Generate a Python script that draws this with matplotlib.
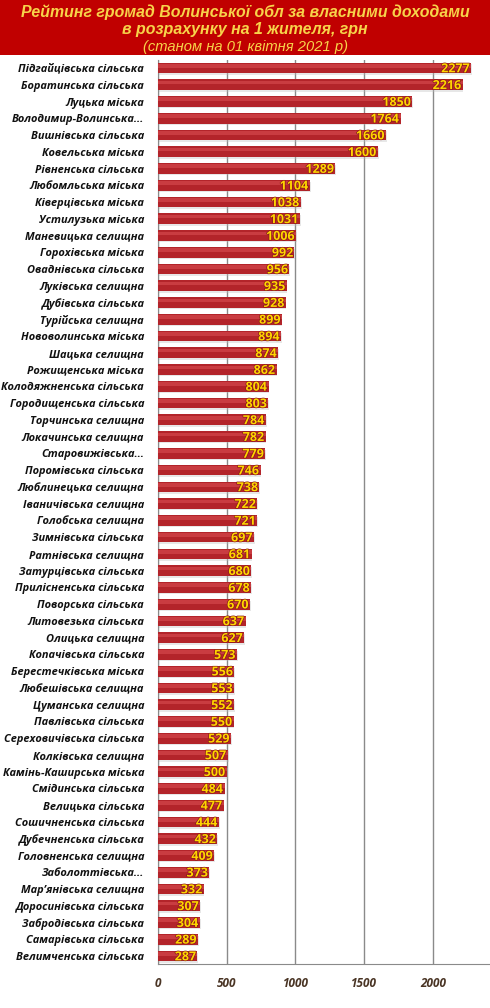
import matplotlib
matplotlib.use("Agg")
import matplotlib.pyplot as plt
import matplotlib.patheffects as pe
import numpy as np

categories = [
    "Підгайцівська сільська", "Боратинська сільська", "Луцька міська",
    "Володимир-Волинська...", "Вишнівська сільська", "Ковельська міська",
    "Рівненська сільська", "Любомльська міська", "Ківерцівська міська",
    "Устилузька міська", "Маневицька селищна", "Горохівська міська",
    "Оваднівська сільська", "Луківська селищна", "Дубівська сільська",
    "Турійська селищна", "Нововолинська міська", "Шацька селищна",
    "Рожищенська міська", "Колодяжненська сільська", "Городищенська сільська",
    "Торчинська селищна", "Локачинська селищна", "Старовижівська...",
    "Поромівська сільська", "Люблинецька селищна", "Іваничівська селищна",
    "Голобська селищна", "Зимнівська сільська", "Ратнівська селищна",
    "Затурцівська сільська", "Прилісненська сільська", "Поворська сільська",
    "Литовезька сільська", "Олицька селищна", "Копачівська сільська",
    "Берестечківська міська", "Любешівська селищна", "Цуманська селищна",
    "Павлівська сільська", "Сереховичівська сільська", "Колківська селищна",
    "Камінь-Каширська міська", "Смідинська сільська", "Велицька сільська",
    "Сошичненська сільська", "Дубечненська сільська", "Головненська селищна",
    "Заболоттівська...", "Мар’янівська селищна", "Доросинівська сільська",
    "Забродівська сільська", "Самарівська сільська", "Велимченська сільська",
]
values = [
    2277, 2216, 1850, 1764, 1660, 1600, 1289, 1104, 1038, 1031, 1006, 992,
    956, 935, 928, 899, 894, 874, 862, 804, 803, 784, 782, 779, 746, 738,
    722, 721, 697, 681, 680, 678, 670, 637, 627, 573, 556, 553, 552, 550,
    529, 507, 500, 484, 477, 444, 432, 409, 373, 332, 307, 304, 289, 287,
]
xticks = [0, 500, 1000, 1500, 2000]
title_lines = ["Рейтинг громад Волинської обл за власними доходами",
               "в розрахунку на 1 жителя, грн"]
subtitle = "(станом на 01 квітня 2021 р)"

W, H = 490, 1008
fig = plt.figure(figsize=(W / 100, H / 100), dpi=100)
fig.patch.set_facecolor("white")

# red title band
band = fig.add_axes([0, 1 - 55 / H, 1, 55 / H])
band.set_facecolor("#C00000")
band.set_xticks([]); band.set_yticks([])
for s in band.spines.values():
    s.set_visible(False)

fam = ["Open Sans", "DejaVu Sans"]
tfam = ["Liberation Sans", "DejaVu Sans"]
fig.text(0.5, 1 - 12 / H, title_lines[0], ha="center", va="center",
         color="#F7D34A", fontsize=11.4, fontweight="bold", style="italic",
         family=tfam)
fig.text(0.5, 1 - 29.5 / H, title_lines[1], ha="center", va="center",
         color="#F7D34A", fontsize=11.4, fontweight="bold", style="italic",
         family=tfam)
fig.text(0.5, 1 - 46.5 / H, subtitle, ha="center", va="center",
         color="#F7D34A", fontsize=10.6, style="italic", family=tfam)

left, right = 158 / W, 1.0
top, bottom = 1 - 59.6 / H, 1 - 964.4 / H
ax = fig.add_axes([left, bottom, right - left, top - bottom])
n = len(values)
y = np.arange(n)
ax.set_ylim(n - 0.5, -0.5)
ax.set_xlim(0, 2415)

ax.xaxis.grid(True, color="#8a8a8a", linewidth=1)
ax.set_axisbelow(True)

# shadow + bar + highlight
ax.barh(y + 0.1, values, height=0.62, left=6, color="#bbbbbb", alpha=0.35,
        linewidth=0, zorder=2)
ax.barh(y, values, height=0.64, color="#B3242A", linewidth=0, zorder=3)
ax.barh(y - 0.13, values, height=0.22, color="#CF4347", linewidth=0, zorder=4,
        alpha=0.8)

for yi, v in zip(y, values):
    ax.text(v - 10, yi + 0.05, str(v), ha="right", va="center",
            color="#FFD500", fontsize=9, fontweight="bold",
            family=fam, zorder=5,
            path_effects=[pe.withStroke(linewidth=1.0, foreground="#8A1A1A")])

ax.set_yticks(y)
ax.set_yticklabels(categories, fontsize=7.9, fontweight="bold", style="italic",
                   family=fam, color="#111111")
ax.tick_params(axis="y", length=0, pad=10)
ax.set_xticks(xticks)
ax.set_xticklabels([str(t) for t in xticks], fontsize=8.5, fontweight="bold",
                   style="italic", family=fam, color="#4A3525")
ax.tick_params(axis="x", length=0, pad=9)

for s in ["top", "right"]:
    ax.spines[s].set_visible(False)
ax.spines["left"].set_color("#8a8a8a")
ax.spines["bottom"].set_color("#8a8a8a")

fig.savefig("out.png", dpi=100, facecolor="white")
